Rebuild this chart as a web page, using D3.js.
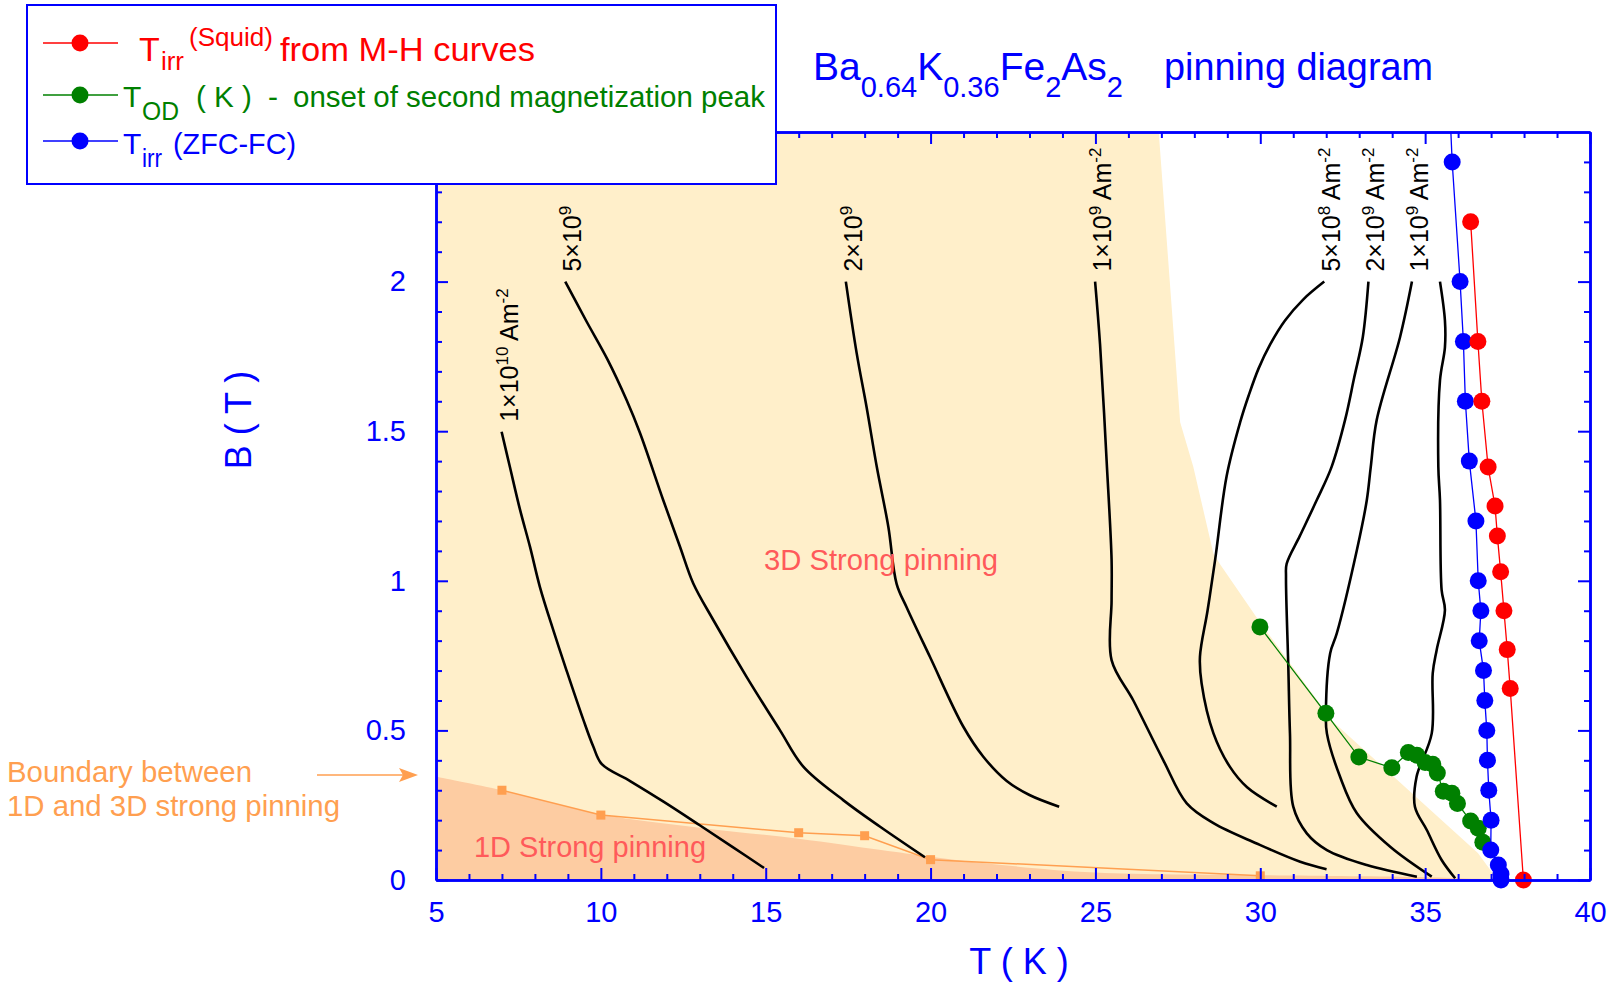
<!DOCTYPE html>
<html>
<head>
<meta charset="utf-8">
<script src="https://cdn.jsdelivr.net/npm/d3@7"></script>
<style>
body { margin: 0; background: #fff; }
svg { display: block; font-family: "Liberation Sans", Arial, sans-serif; }
</style>
</head>
<body>
<svg width="1614" height="982"></svg>
<script>
// ---- data ----
// T_irr (Squid) from M-H curves
var redT = [36.38, 36.60, 36.72, 36.91, 37.12, 37.19, 37.29, 37.39, 37.49, 37.58, 37.98];
var redB = [2.2, 1.8, 1.6, 1.38, 1.25, 1.15, 1.03, 0.9, 0.77, 0.64, 0];
// T_OD onset of second magnetization peak
var greenT = [29.99, 31.99, 32.99, 33.99, 34.49, 34.75, 35.0, 35.23, 35.37, 35.55, 35.81, 35.98, 36.38, 36.61, 36.75];
var greenB = [0.846, 0.557, 0.411, 0.375, 0.426, 0.417, 0.393, 0.387, 0.358, 0.297, 0.29, 0.256, 0.197, 0.173, 0.126];
// T_irr (ZFC-FC), first value is where the line leaves the frame
var blueT = [35.74, 35.82, 36.06, 36.16, 36.22, 36.34, 36.54, 36.61, 36.69, 36.64, 36.77, 36.81, 36.87, 36.89, 36.93, 37.0, 36.99, 37.22, 37.30, 37.30];
var blueB = [2.6, 2.4, 2.0, 1.8, 1.6, 1.4, 1.2, 1.0, 0.9, 0.8, 0.7, 0.6, 0.5, 0.4, 0.3, 0.2, 0.1, 0.05, 0.02, 0];
// boundary between 1D and 3D strong pinning
var boundT = [7, 10, 16, 18, 20, 30];
var boundB = [0.3, 0.217, 0.158, 0.148, 0.068, 0.014];

// shaded regions (3D: closed polygon, 1D: top edge, closed along B = 0)
var region3D_T = [5, 5, 26.92, 27.57, 27.97, 28.58, 28.78, 30.0, 32.2, 34.5, 36.6, 37.2];
var region3D_B = [0, 2.5, 2.5, 1.53, 1.38, 1.09, 1.055, 0.86, 0.53, 0.3, 0.09, 0];
var region1D_T = [5, 7, 10, 13, 16, 18.5, 20, 22, 25, 30, 35, 37.5];
var region1D_B = [0.345, 0.30, 0.22, 0.175, 0.138, 0.10, 0.078, 0.052, 0.025, 0.016, 0.009, 0];

// constant Jc contours
var jcA_T = [6.99, 7.24, 7.55, 7.85, 8.15, 8.56, 8.96, 9.47, 9.77, 10.03, 10.9, 11.9, 13.0, 14.0, 14.95];
var jcA_B = [1.498, 1.381, 1.237, 1.114, 0.98, 0.834, 0.70, 0.535, 0.446, 0.387, 0.33, 0.262, 0.183, 0.11, 0.04];
var jcB_T = [8.92, 9.55, 10.2, 10.78, 11.19, 11.89, 12.4, 12.8, 13.41, 14.42, 15.43, 16.14, 17.35, 18.47, 19.83];
var jcB_B = [2.0, 1.87, 1.74, 1.604, 1.493, 1.27, 1.114, 0.992, 0.869, 0.679, 0.501, 0.379, 0.267, 0.178, 0.076];
var jcC_T = [17.43, 17.76, 18.06, 18.37, 18.72, 18.97, 19.28, 19.98, 20.99, 21.6, 22.31, 23.0, 23.9];
var jcC_B = [2.0, 1.76, 1.58, 1.38, 1.18, 0.99, 0.91, 0.746, 0.513, 0.412, 0.331, 0.284, 0.245];
var jcD_T = [24.99, 25.14, 25.34, 25.49, 25.49, 25.49, 26.15, 27.06, 27.77, 28.58, 29.89, 31.21, 32.01];
var jcD_B = [2.0, 1.79, 1.40, 1.07, 0.935, 0.735, 0.60, 0.40, 0.256, 0.19, 0.122, 0.061, 0.036];
var jcE_T = [31.94, 31.3, 30.75, 30.3, 29.95, 29.65, 29.39, 28.98, 28.63, 28.4, 28.17, 28.22, 28.58, 29.08, 29.6, 30.5];
var jcE_B = [2.0, 1.94, 1.87, 1.79, 1.71, 1.62, 1.53, 1.35, 1.07, 0.9, 0.746, 0.657, 0.49, 0.378, 0.31, 0.245];
var jcF_T = [33.28, 33.11, 32.85, 32.57, 32.16, 31.71, 31.2, 30.8, 30.78, 30.85, 30.9, 31.0, 31.41, 32.02, 33.23, 34.75];
var jcF_B = [2.0, 1.815, 1.68, 1.537, 1.38, 1.269, 1.15, 1.057, 1.013, 0.713, 0.49, 0.245, 0.156, 0.1, 0.05, 0.011];
var jcG_T = [34.6, 34.24, 33.53, 33.35, 33.23, 32.93, 32.32, 32.12, 31.99, 32.02, 32.42, 32.93, 33.94, 35.2];
var jcG_B = [2.0, 1.815, 1.537, 1.38, 1.269, 1.103, 0.824, 0.758, 0.557, 0.49, 0.345, 0.223, 0.111, 0.011];
var jcH_T = [35.45, 35.6, 35.6, 35.45, 35.4, 35.45, 35.5, 35.6, 35.35, 35.23, 35.2, 34.74, 34.69, 35.05, 35.5, 35.91];
var jcH_B = [2.0, 1.87, 1.78, 1.67, 1.38, 1.27, 0.969, 0.902, 0.769, 0.691, 0.49, 0.345, 0.245, 0.167, 0.067, 0.006];

// contour labels: mantissa, exponent, with unit?
var jcMantissa = ["1\u00d710", "5\u00d710", "2\u00d710", "1\u00d710", "5\u00d710", "2\u00d710", "1\u00d710", ""];
var jcExponent = ["10", "9", "9", "9", "8", "9", "9", ""];
var jcUnit = [true, false, false, true, true, true, true, false];

var xMajor = [5, 10, 15, 20, 25, 30, 35, 40];
var yMajor = [0, 0.5, 1, 1.5, 2];

// ---- drawing ----
var svg = d3.select("svg");
var blue = "#0000ff", red = "#ff0000", green = "#008000", orange = "#ff9f50", pink = "#ff5a5a";

var x = d3.scaleLinear().domain([5, 40]).range([436, 1590]);
var y = d3.scaleLinear().domain([0, 2.5]).range([880, 132]);

var zip = function(a, b) { return a.map(function(v, i) { return [x(v), y(b[i])]; }); };
var line = d3.line();
var smooth = d3.line().curve(d3.curveCatmullRom.alpha(0.5));

svg.append("clipPath").attr("id", "plotclip")
  .append("rect").attr("x", x(5)).attr("y", y(2.5)).attr("width", x(40) - x(5)).attr("height", y(0) - y(2.5));

var plot = svg.append("g");

plot.append("path").attr("d", line(zip(region3D_T, region3D_B)) + "Z").attr("fill", "#ffefca");
plot.append("path")
  .attr("d", smooth(zip(region1D_T, region1D_B)) + "L" + x(5) + "," + y(0) + "Z")
  .attr("fill", "#fdcca2");

// boundary line with squares
plot.append("path").attr("d", line(zip(boundT, boundB))).attr("fill", "none")
  .attr("stroke", orange).attr("stroke-width", 1.5);
plot.selectAll("rect.bd").data(boundT).enter().append("rect").attr("class", "bd")
  .attr("x", function(d) { return x(d) - 4.5; })
  .attr("y", function(d, i) { return y(boundB[i]) - 4.5; })
  .attr("width", 9).attr("height", 9).attr("fill", orange);

// Jc contours
var jcT = [jcA_T, jcB_T, jcC_T, jcD_T, jcE_T, jcF_T, jcG_T, jcH_T];
var jcB = [jcA_B, jcB_B, jcC_B, jcD_B, jcE_B, jcF_B, jcG_B, jcH_B];
jcT.forEach(function(ts, k) {
  plot.append("path").attr("d", smooth(zip(ts, jcB[k]))).attr("fill", "none")
    .attr("stroke", "#000").attr("stroke-width", 2.6).attr("stroke-linejoin", "round");
  if (!jcMantissa[k]) return;
  var t = plot.append("text")
    .attr("transform", "translate(" + (x(ts[0]) + 16) + "," + (y(jcB[k][0]) - 10) + ") rotate(-90)")
    .attr("font-size", 25).attr("fill", "#000");
  t.append("tspan").text(jcMantissa[k]);
  t.append("tspan").attr("font-size", 17).attr("dy", -10).text(jcExponent[k]);
  if (jcUnit[k]) {
    t.append("tspan").attr("dy", 10).text(" Am");
    t.append("tspan").attr("font-size", 17).attr("dy", -10).text("-2");
  }
});

// series: line through all points, markers only inside the frame
function series(ts, bs, color) {
  plot.append("path").attr("clip-path", "url(#plotclip)")
    .attr("d", line(zip(ts, bs))).attr("fill", "none").attr("stroke", color).attr("stroke-width", 1.3);
  var pts = zip(ts, bs).filter(function(p, i) { return bs[i] <= 2.5; });
  plot.append("g").selectAll("circle").data(pts).enter().append("circle")
    .attr("cx", function(p) { return p[0]; }).attr("cy", function(p) { return p[1]; })
    .attr("r", 8.5).attr("fill", color);
}
series(greenT, greenB, green);
series(blueT, blueB, blue);
series(redT, redB, red);

// text inside the plot
function txt(g, s, px, py, size, color, w, anchor) {
  var t = g.append("text").attr("x", px).attr("y", py).attr("font-size", size).attr("fill", color).text(s);
  if (anchor) t.attr("text-anchor", anchor);
  if (w) t.attr("textLength", w).attr("lengthAdjust", "spacingAndGlyphs");
  return t;
}
txt(svg, "3D Strong pinning", 764, 570, 29, pink, 234);
txt(svg, "1D Strong pinning", 474, 857, 29, pink, 232);
txt(svg, "Boundary between", 7, 782, 29, orange, 245);
txt(svg, "1D and 3D strong pinning", 7, 816, 29, orange, 333);
svg.append("line").attr("x1", 317).attr("x2", 404).attr("y1", 775).attr("y2", 775)
  .attr("stroke", orange).attr("stroke-width", 1.5);
svg.append("path").attr("d", "M418,775 L399,768 L403,775 L399,782 Z").attr("fill", orange);

// axes
function styleAxis(g) {
  g.select(".domain").attr("stroke", blue).attr("stroke-width", 2.5);
  g.selectAll(".tick line").attr("stroke", blue).attr("stroke-width", 2);
  g.selectAll(".tick text").attr("fill", blue).attr("font-size", 29)
    .attr("font-family", "'Liberation Sans', Arial, sans-serif");
}
var xMinor = d3.range(5, 40.5, 1).filter(function(d) { return d % 5 !== 0; });
var yMinor = d3.range(0, 26, 1).map(function(d) { return d / 10; }).filter(function(d) { return Math.round(d * 10) % 5 !== 0; });

var axB = svg.append("g").attr("transform", "translate(0," + y(0) + ")")
  .call(d3.axisBottom(x).tickValues(xMajor).tickSize(-12).tickSizeOuter(0).tickPadding(21).tickFormat(d3.format("d")));
var axBm = svg.append("g").attr("transform", "translate(0," + y(0) + ")")
  .call(d3.axisBottom(x).tickValues(xMinor).tickSize(-6).tickSizeOuter(0).tickFormat(""));
var axT = svg.append("g").attr("transform", "translate(0," + y(2.5) + ")")
  .call(d3.axisTop(x).tickValues(xMajor).tickSize(-12).tickSizeOuter(0).tickFormat(""));
var axTm = svg.append("g").attr("transform", "translate(0," + y(2.5) + ")")
  .call(d3.axisTop(x).tickValues(xMinor).tickSize(-6).tickSizeOuter(0).tickFormat(""));
var axL = svg.append("g").attr("transform", "translate(" + x(5) + ",0)")
  .call(d3.axisLeft(y).tickValues(yMajor).tickSize(-12).tickSizeOuter(0).tickPadding(30).tickFormat(function(d) { return d; }));
var axLm = svg.append("g").attr("transform", "translate(" + x(5) + ",0)")
  .call(d3.axisLeft(y).tickValues(yMinor).tickSize(-6).tickSizeOuter(0).tickFormat(""));
var axR = svg.append("g").attr("transform", "translate(" + x(40) + ",0)")
  .call(d3.axisRight(y).tickValues(yMajor).tickSize(-12).tickSizeOuter(0).tickFormat(""));
var axRm = svg.append("g").attr("transform", "translate(" + x(40) + ",0)")
  .call(d3.axisRight(y).tickValues(yMinor).tickSize(-6).tickSizeOuter(0).tickFormat(""));
[axB, axBm, axT, axTm, axL, axLm, axR, axRm].forEach(styleAxis);

// axis titles
txt(svg, "T ( K )", 1019, 974, 36, blue, null, "middle");
svg.append("text").attr("transform", "translate(251,420) rotate(-90)")
  .attr("text-anchor", "middle").attr("font-size", 36).attr("fill", blue).text("B ( T )");

// title
var title = svg.append("text").attr("x", 813).attr("y", 80).attr("font-size", 39).attr("fill", blue);
title.append("tspan").text("Ba");
title.append("tspan").attr("font-size", 29).attr("dy", 17).text("0.64");
title.append("tspan").attr("dy", -17).text("K");
title.append("tspan").attr("font-size", 29).attr("dy", 17).text("0.36");
title.append("tspan").attr("dy", -17).text("Fe");
title.append("tspan").attr("font-size", 29).attr("dy", 17).text("2");
title.append("tspan").attr("dy", -17).text("As");
title.append("tspan").attr("font-size", 29).attr("dy", 17).text("2");
txt(svg, "pinning diagram", 1164, 80, 38, blue, 269);

// legend
var leg = svg.append("g");
leg.append("rect").attr("x", 27).attr("y", 5).attr("width", 749).attr("height", 179)
  .attr("fill", "#fff").attr("stroke", blue).attr("stroke-width", 2);
[[43, red], [95, green], [141, blue]].forEach(function(r) {
  leg.append("line").attr("x1", 43).attr("x2", 118).attr("y1", r[0]).attr("y2", r[0])
    .attr("stroke", r[1]).attr("stroke-width", 1.3);
  leg.append("circle").attr("cx", 80).attr("cy", r[0]).attr("r", 8.5).attr("fill", r[1]);
});
txt(leg, "T", 139, 61, 34, red);
txt(leg, "irr", 161, 70, 25, red, 23);
txt(leg, "(Squid)", 189, 46, 25, red, 84);
txt(leg, "from M-H curves", 280, 61, 34, red, 255);
txt(leg, "T", 123, 107, 30, green);
txt(leg, "OD", 142, 120, 25, green, 37);
txt(leg, "( K )", 196, 107, 30, green, 56);
txt(leg, "-", 268, 107, 30, green);
txt(leg, "onset of second magnetization peak", 293, 107, 30, green, 472);
txt(leg, "T", 123, 154, 30, blue);
txt(leg, "irr", 142, 167, 25, blue, 20);
txt(leg, "(ZFC-FC)", 173, 154, 30, blue, 123);
</script>
</body>
</html>
